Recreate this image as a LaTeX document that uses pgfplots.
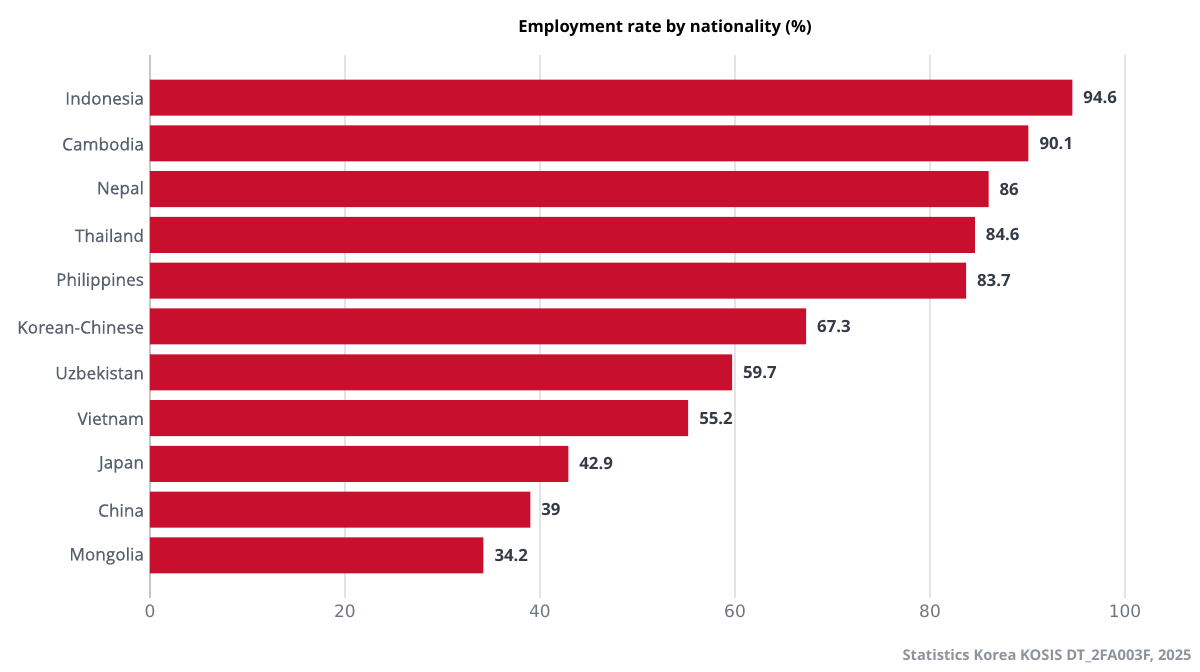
\documentclass[border=0pt]{standalone}
\usepackage{pgfplots}
\pgfplotsset{compat=1.18}
\usepackage{fontspec}
\setmainfont{Open Sans}
\newfontfamily\tickfont{DejaVu Sans}
\newfontfamily\catfont[FakeBold=0.6]{Open Sans}
\definecolor{barred}{HTML}{C8102E}
\definecolor{catgray}{HTML}{56606E}
\definecolor{tickgray}{HTML}{6E7681}
\definecolor{valdark}{HTML}{343B46}
\definecolor{srcgray}{HTML}{8C939D}
\definecolor{gridgray}{HTML}{E3E3EA}
\begin{document}
\begin{tikzpicture}
\path (0,0) rectangle (600pt,336pt);
\begin{axis}[
  at={(75pt,37pt)}, anchor=south west,
  scale only axis, width=487.5pt, height=271.5pt,
  xmin=0, xmax=100, ymin=-0.93, ymax=10.93,
  xtick={0,20,...,100},
  ytick={0,...,10},
  yticklabels={Mongolia,China,Japan,Vietnam,Uzbekistan,Korean-Chinese,Philippines,Thailand,Nepal,Cambodia,Indonesia},
  axis line style={draw=none},
  major tick length=0pt,
  xmajorgrids, ymajorgrids=false,
  x grid style={gridgray, line width=0.6pt},
  /pgf/number format/assume math mode=true,
  x tick label style={font=\tickfont\fontsize{8.5}{10}\selectfont, text=tickgray, yshift=0pt},
  y tick label style={font=\catfont\fontsize{8.6}{10}\selectfont, text=catgray, xshift=0.5pt, yshift=-0.3pt},
  clip=false,
]
\draw[color=gray!45, line width=0.6pt] (axis cs:0,-0.93) -- (axis cs:0,10.93);
\addplot[xbar, bar width=18pt, fill=barred, draw=none,
  point meta=explicit symbolic,
  nodes near coords,
  nodes near coords style={anchor=west, xshift=2pt, font=\bfseries\fontsize{8.4}{10}\selectfont, text=valdark}]
coordinates {
(34.2,0) [34.2]
(39,1) [39]
(42.9,2) [42.9]
(55.2,3) [55.2]
(59.7,4) [59.7]
(67.3,5) [67.3]
(83.7,6) [83.7]
(84.6,7) [84.6]
(86,8) [86]
(90.1,9) [90.1]
(94.6,10) [94.6]
};
\end{axis}
\node[font=\fontsize{8.3}{10}\selectfont\bfseries, anchor=base] at (332.5pt,319.5pt) {Employment rate by nationality (\%)};
\node[font=\fontsize{7.35}{9}\selectfont\bfseries, text=srcgray, anchor=base east, inner sep=0pt] at (596pt,5.5pt) {Statistics Korea KOSIS DT\_2FA003F, 2025};
\end{tikzpicture}
\end{document}
